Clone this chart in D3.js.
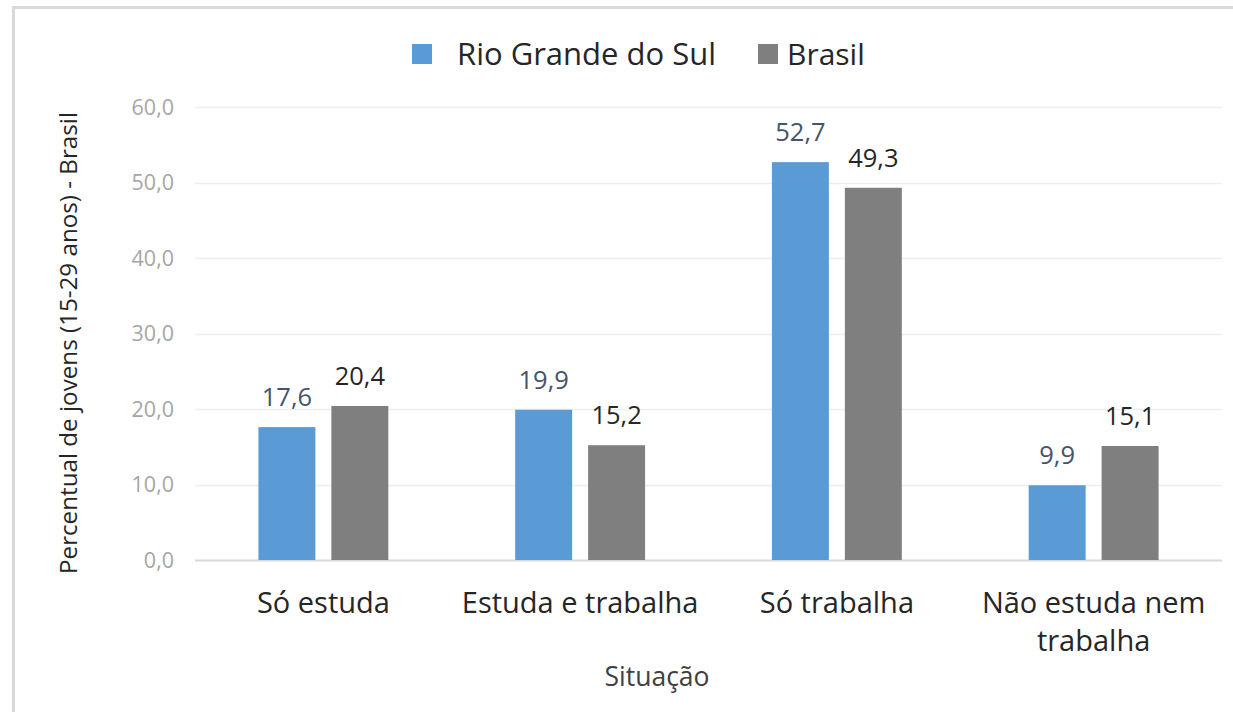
<!DOCTYPE html>
<html><head><meta charset="utf-8">
<script src="https://cdn.jsdelivr.net/npm/d3@7"></script>
<style>
html,body{margin:0;padding:0;background:#fff;}
svg{display:block;font-family:"Open Sans","Noto Sans",sans-serif;}
</style></head>
<body><svg id="c" width="1233" height="712"></svg>
<script>
const categories = [["Só estuda"], ["Estuda e trabalha"], ["Só trabalha"], ["Não estuda nem", "trabalha"]];
const seriesNames = ["Rio Grande do Sul", "Brasil"];
const rsValues = [17.6, 19.9, 52.7, 9.9];
const brValues = [20.4, 15.2, 49.3, 15.1];
const yTicks = [0, 10, 20, 30, 40, 50, 60];
const colors = ["#5b9bd5", "#7f7f7f"];
const labelColors = ["#44546a", "#262626"];

const svg = d3.select("#c");
svg.append("rect").attr("x", 13.5).attr("y", 7.5).attr("width", 1240).attr("height", 720)
  .attr("fill", "#fff").attr("stroke", "#d9d9d9").attr("stroke-width", 3);

const catKeys = categories.map(d => d.join(" "));
const x0 = d3.scaleBand().domain(catKeys).range([195, 1222]).paddingInner(0.494).paddingOuter(0.247);
const x1 = d3.scaleBand().domain(seriesNames).range([0, x0.bandwidth()]).paddingInner(0.219);
const y = d3.scaleLinear().domain([0, 60]).range([560, 107]);

// grid
svg.append("g").selectAll("line").data(yTicks).join("line")
  .attr("x1", 195).attr("x2", 1222)
  .attr("y1", d => Math.round(y(d)) + 0.5).attr("y2", d => Math.round(y(d)) + 0.5)
  .attr("stroke", d => d === 0 ? "#d9d9d9" : "#eeeeee").attr("stroke-width", d => d === 0 ? 2 : 1.5);

// y labels
const fmt = v => d3.format(".1f")(v).replace(".", ",");
svg.append("g").selectAll("text").data(yTicks).join("text")
  .attr("x", 174).attr("y", d => y(d)).attr("dy", "0.35em").attr("text-anchor", "end")
  .attr("font-size", 21.5).attr("fill", "#a6a6a6").text(fmt);

const data = catKeys.map((c, i) => ({ cat: c, vals: [rsValues[i], brValues[i]] }));
const groups = svg.append("g").selectAll("g").data(data).join("g")
  .attr("transform", d => `translate(${x0(d.cat)},0)`);
groups.selectAll("rect").data(d => d.vals.map((v, j) => ({ v, j }))).join("rect")
  .attr("x", d => x1(seriesNames[d.j])).attr("width", x1.bandwidth())
  .attr("y", d => y(d.v)).attr("height", d => y(0) - y(d.v))
  .attr("fill", d => colors[d.j]);
groups.selectAll("text").data(d => d.vals.map((v, j) => ({ v, j }))).join("text")
  .attr("x", d => x1(seriesNames[d.j]) + x1.bandwidth() / 2)
  .attr("y", d => y(d.v) - 21).attr("text-anchor", "middle")
  .attr("font-size", 25.5).attr("fill", d => labelColors[d.j]).text(d => fmt(d.v));

// category labels
const cl = svg.append("g").selectAll("text").data(categories).join("text")
  .attr("x", (d, i) => x0(catKeys[i]) + x0.bandwidth() / 2).attr("y", 613)
  .attr("text-anchor", "middle").attr("font-size", 29).attr("fill", "#262626");
cl.selectAll("tspan").data(d => d).join("tspan")
  .attr("x", function () { return this.parentNode.getAttribute("x"); })
  .attr("dy", (d, i) => i === 0 ? 0 : 38).text(d => d);

// axis titles
svg.append("text").attr("transform", "translate(77,343) rotate(-90)")
  .attr("text-anchor", "middle").attr("font-size", 24.2).attr("fill", "#262626")
  .text("Percentual de jovens (15-29 anos) - Brasil");
svg.append("text").attr("x", 657).attr("y", 686).attr("text-anchor", "middle")
  .attr("font-size", 26.5).attr("fill", "#404040").text("Situação");

// legend
const leg = [{ x: 412, tx: 457 }, { x: 758, tx: 787 }];
const lg = svg.append("g").selectAll("g").data(seriesNames).join("g");
lg.append("rect").attr("x", (d, i) => leg[i].x).attr("y", 44).attr("width", 20).attr("height", 20)
  .attr("fill", (d, i) => colors[i]);
lg.append("text").attr("x", (d, i) => leg[i].tx).attr("y", 65).attr("font-size", (d, i) => i === 0 ? 31 : 30)
  .attr("fill", "#262626").text(d => d);
</script></body></html>
